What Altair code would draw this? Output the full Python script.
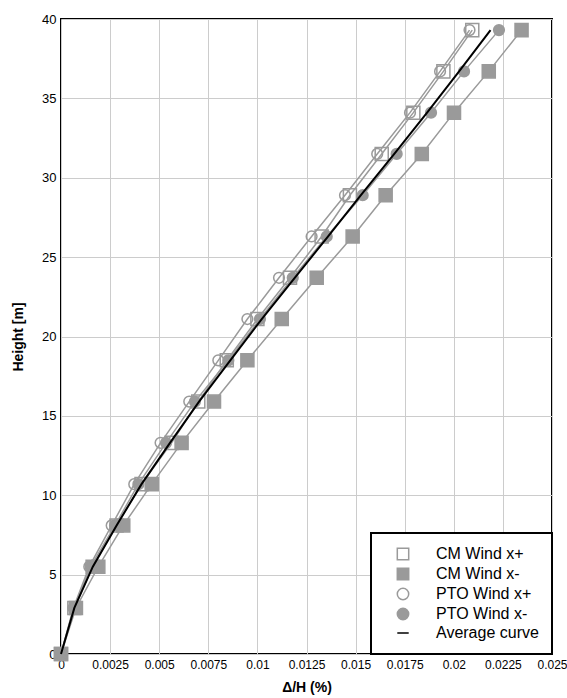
import altair as alt
import pandas as pd

heights = [0, 2.9, 5.5, 8.1, 10.7, 13.3, 15.9, 18.5, 21.1, 23.7, 26.3, 28.9, 31.5, 34.1, 36.7, 39.3]

cm_xp = [0, 0.00068, 0.00161, 0.00283, 0.0041, 0.00563, 0.00699, 0.00844, 0.0100,
         0.01166, 0.01327, 0.01471, 0.01633, 0.01794, 0.01947, 0.02094]
cm_xm = [0, 0.00076, 0.0019, 0.00317, 0.00462, 0.00614, 0.00779, 0.00949, 0.01124,
         0.01302, 0.01485, 0.01653, 0.01837, 0.02001, 0.02178, 0.02345]
pto_xp = [0, 0.00063, 0.00144, 0.00258, 0.00373, 0.00507, 0.00653, 0.00801, 0.00949,
          0.0111, 0.01276, 0.01446, 0.0161, 0.01777, 0.0193, 0.0208]
pto_xm = [0, 0.00066, 0.00151, 0.00275, 0.00394, 0.00535, 0.00682, 0.00852, 0.01013,
          0.0118, 0.01353, 0.01536, 0.01709, 0.01884, 0.02052, 0.0223]
avg = [0, 0.00068, 0.00162, 0.00283, 0.0041, 0.00555, 0.00703, 0.00862, 0.01022,
       0.0119, 0.0136, 0.01527, 0.01697, 0.01864, 0.02027, 0.02187]

series_names = ["CM Wind x+", "CM Wind x-", "PTO Wind x+", "PTO Wind x-", "Average curve"]
series_values = [cm_xp, cm_xm, pto_xp, pto_xm, avg]

x_ticks = [0, 0.0025, 0.005, 0.0075, 0.01, 0.0125, 0.015, 0.0175, 0.02, 0.0225, 0.025]
y_ticks = [0, 5, 10, 15, 20, 25, 30, 35, 40]

rows = []
for name, vals in zip(series_names, series_values):
    for h, v in zip(heights, vals):
        rows.append({"series": name, "drift": v, "height": h})
df = pd.DataFrame(rows)

GRAY = "#9a9a9a"
dom = series_names
stroke_scale = alt.Scale(domain=dom, range=[GRAY, GRAY, GRAY, GRAY, "black"])
shape_scale = alt.Scale(domain=dom, range=["square", "square", "circle", "circle", "stroke"])
fill_scale = alt.Scale(domain=dom, range=["transparent", GRAY, "transparent", GRAY, "black"])

x_enc = alt.X("drift:Q", scale=alt.Scale(domain=[0, 0.025], nice=False),
              axis=alt.Axis(values=x_ticks, title="Δ/H (%)", labelOverlap=False,
                            labelFlush=False,
                            labelExpr="format(datum.value, '~g')"))
y_enc = alt.Y("height:Q", scale=alt.Scale(domain=[0, 40], nice=False),
              axis=alt.Axis(values=y_ticks, title="Height [m]", labelFlush=False))

legend = alt.Legend(title=None, orient="bottom-right", offset=0,
                    fillColor="white", strokeColor="black", padding=13,
                    labelFontSize=16, labelFont="Liberation Sans", labelColor="black",
                    symbolSize=130, symbolOffset=11, labelOffset=25,
                    rowPadding=2, symbolStrokeWidth=1.5)

base = alt.Chart(df)

gray_lines = base.transform_filter(alt.datum.series != "Average curve").mark_line(
    strokeWidth=1.5
).encode(
    x=x_enc, y=y_enc, order="height:Q",
    stroke=alt.Stroke("series:N", scale=stroke_scale, legend=legend),
)

def point_layer(names, size):
    return base.transform_filter(
        alt.FieldOneOfPredicate(field="series", oneOf=names)
    ).mark_point(size=size, strokeWidth=1.5, opacity=1).encode(
        x=x_enc, y=y_enc,
        stroke=alt.Stroke("series:N", scale=stroke_scale, legend=legend),
        shape=alt.Shape("series:N", scale=shape_scale, legend=legend),
        fill=alt.Fill("series:N", scale=fill_scale, legend=legend),
    )

squares = point_layer(["CM Wind x+", "CM Wind x-"], 170)
circles = point_layer(["PTO Wind x+", "PTO Wind x-"], 115)

avg_line = base.transform_filter(alt.datum.series == "Average curve").mark_line(
    strokeWidth=2
).encode(
    x=x_enc, y=y_enc, order="height:Q",
    stroke=alt.Stroke("series:N", scale=stroke_scale, legend=legend),
)

chart = alt.layer(gray_lines, squares, circles, avg_line).properties(
    width=491, height=635,
    autosize=alt.AutoSizeParams(type="none"),
    padding={"left": 61, "top": 19, "right": 15, "bottom": 44},
    background="white",
).configure_view(
    stroke="black", strokeWidth=2
).configure_legend(
    strokeWidth=2
).configure_axis(
    grid=True, gridColor="#cccccc", gridWidth=1,
    domain=False, ticks=False,
    labelFont="Liberation Sans", labelFontSize=12, labelColor="black",
    titleFont="Liberation Sans", titleFontSize=14, titleFontWeight="bold", titleColor="black",
).configure_axisY(
    labelPadding=5, titlePadding=16, labelFontSize=13
).configure_axisX(
    labelPadding=5, titlePadding=10
)

chart.save("out.html", embed_options={"renderer": "svg", "actions": False})
